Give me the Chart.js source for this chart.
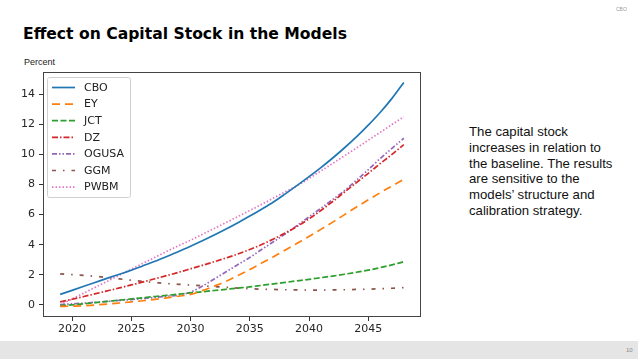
<!DOCTYPE html>
<html>
<head>
<meta charset="utf-8">
<script src="https://cdn.jsdelivr.net/npm/chart.js@4.4.0/dist/chart.umd.min.js"></script>
<style>
    body { margin: 0; width: 638px; height: 359px; background: #fff; position: relative; overflow: hidden; font-family: "Liberation Sans", Arial, sans-serif; }
    .title { position: absolute; left: 23px; top: 24.5px; font-family: "DejaVu Sans", sans-serif; font-size: 15.6px; font-weight: bold; color: #000; white-space: nowrap; }
    .unit { position: absolute; left: 24px; top: 57px; font-size: 9px; color: #222; }
    .tag { position: absolute; left: 616px; top: 6px; font-size: 5px; color: #999; }
    .note { position: absolute; left: 469px; top: 124px; font-size: 13.2px; line-height: 15.8px; color: #111; }
    .footer { position: absolute; left: 0; top: 341px; width: 638px; height: 18px; background: #e5e5e5; }
    .page { position: absolute; left: 626px; top: 347px; font-size: 6px; color: #888; }
    #wrap { position: absolute; left: 0; top: 0; width: 430px; height: 340px; }
</style>
</head>
<body>
<div class="tag">CBO</div>
<div class="title">Effect on Capital Stock in the Models</div>
<div class="unit">Percent</div>
<div id="wrap"><canvas id="capitalChart"></canvas></div>
<div class="note">The capital stock<br>increases in relation to<br>the baseline. The results<br>are sensitive to the<br>models’ structure and<br>calibration strategy.</div>
<div class="footer"></div>
<div class="page">10</div>

<script>
const years = [2019, 2020, 2021, 2022, 2023, 2024, 2025, 2026, 2027, 2028,
    2029, 2030, 2031, 2032, 2033, 2034, 2035, 2036, 2037, 2038,
    2039, 2040, 2041, 2042, 2043, 2044, 2045, 2046, 2047, 2048];

const cbo = [0.70, 0.97, 1.24, 1.51, 1.78, 2.04, 2.30, 2.60, 2.90, 3.22,
    3.55, 3.90, 4.26, 4.64, 5.04, 5.46, 5.90, 6.36, 6.84, 7.38,
    7.94, 8.52, 9.12, 9.76, 10.44, 11.16, 11.94, 12.78, 13.72, 14.78];
const ey = [-0.10, -0.08, -0.05, 0.00, 0.06, 0.13, 0.20, 0.28, 0.37, 0.47,
    0.58, 0.70, 0.95, 1.25, 1.57, 1.95, 2.35, 2.78, 3.20, 3.65,
    4.10, 4.55, 5.02, 5.50, 6.00, 6.50, 6.98, 7.45, 7.90, 8.35];
const jct = [-0.05, 0.01, 0.08, 0.16, 0.24, 0.32, 0.40, 0.48, 0.56, 0.64,
    0.72, 0.80, 0.88, 0.96, 1.04, 1.12, 1.20, 1.30, 1.40, 1.50,
    1.60, 1.70, 1.81, 1.92, 2.04, 2.17, 2.31, 2.48, 2.66, 2.87];
const dz = [0.20, 0.38, 0.56, 0.75, 0.94, 1.13, 1.33, 1.53, 1.74, 1.95,
    2.17, 2.40, 2.63, 2.87, 3.12, 3.38, 3.68, 4.01, 4.38, 4.78,
    5.22, 5.72, 6.27, 6.87, 7.50, 8.12, 8.74, 9.38, 10.00, 10.65];
const ogusa = [0.02, 0.07, 0.12, 0.18, 0.24, 0.30, 0.36, 0.43, 0.50, 0.58,
    0.66, 0.85, 1.25, 1.72, 2.20, 2.68, 3.15, 3.68, 4.20, 4.72,
    5.28, 5.85, 6.42, 7.00, 7.60, 8.28, 8.98, 9.72, 10.40, 11.07];
const ggm = [2.07, 2.02, 1.96, 1.90, 1.82, 1.73, 1.64, 1.56, 1.49, 1.42,
    1.37, 1.32, 1.27, 1.22, 1.17, 1.12, 1.08, 1.05, 1.03, 1.01,
    1.00, 0.99, 0.99, 1.00, 1.01, 1.03, 1.05, 1.08, 1.11, 1.15];
const pwbm = [0.00, 0.40, 0.79, 1.19, 1.58, 1.98, 2.37, 2.77, 3.16, 3.56,
    3.94, 4.30, 4.69, 5.08, 5.47, 5.87, 6.27, 6.68, 7.10, 7.52,
    7.92, 8.40, 8.90, 9.40, 9.91, 10.42, 10.94, 11.46, 11.98, 12.50];

const modelNames = ['CBO', 'EY', 'JCT', 'DZ', 'OGUSA', 'GGM', 'PWBM'];
const modelValues = [cbo, ey, jct, dz, ogusa, ggm, pwbm];
const modelColors = ['#1f77b4', '#ff7f0e', '#2ca02c', '#d62728', '#9467bd', '#8c564b', '#e377c2'];
const modelDashes = [[], [8, 5], [6, 2.5], [6, 2, 1.5, 2], [5, 2, 1.5, 2, 1.5, 2], [4, 7, 1.5, 7], [1.5, 2]];

const xTicks = [2020, 2025, 2030, 2035, 2040, 2045];
const yTicks = [0, 2, 4, 6, 8, 10, 12, 14];

// frame around the plot and a matplotlib-style legend in the upper left
const framePlugin = {
    id: 'framePlugin',
    afterDraw(chart) {
        const ctx = chart.ctx;
        const area = chart.chartArea;
        ctx.save();
        ctx.strokeStyle = '#444';
        ctx.lineWidth = 1;
        ctx.setLineDash([]);
        ctx.strokeRect(area.left + 0.5, area.top + 0.5, area.right - area.left - 1, area.bottom - area.top - 1);

        const boxX = area.left + 4.5, boxY = area.top + 5.5, boxW = 83, boxH = 120;
        ctx.fillStyle = 'rgba(255,255,255,0.85)';
        ctx.strokeStyle = '#d0d0d0';
        ctx.beginPath();
        ctx.roundRect(boxX, boxY, boxW, boxH, 2);
        ctx.fill();
        ctx.stroke();

        ctx.font = '11px "DejaVu Sans"';
        ctx.textBaseline = 'middle';
        chart.data.datasets.forEach((ds, i) => {
            const y = area.top + 15.5 + i * 16.6;
            ctx.strokeStyle = ds.borderColor;
            ctx.lineWidth = ds.borderWidth;
            ctx.setLineDash(ds.borderDash);
            ctx.beginPath();
            ctx.moveTo(area.left + 9, y);
            ctx.lineTo(area.left + 32, y);
            ctx.stroke();
            ctx.fillStyle = '#222';
            ctx.fillText(ds.label, area.left + 41, y + 0.5);
        });
        ctx.restore();
    }
};

const datasets = modelNames.map((name, i) => ({
    label: name,
    data: years.map((yr, j) => ({ x: yr, y: modelValues[i][j] })),
    borderColor: modelColors[i],
    borderWidth: 1.7,
    borderDash: modelDashes[i],
    pointRadius: 0,
    fill: false,
    cubicInterpolationMode: 'monotone'
}));

new Chart(document.getElementById('capitalChart'), {
    type: 'line',
    data: { datasets: datasets },
    options: {
        responsive: true,
        maintainAspectRatio: false,
        animation: false,
        layout: { padding: { top: 72, right: 9, left: 0, bottom: 0 } },
        plugins: {
            legend: { display: false },
            tooltip: { enabled: false }
        },
        scales: {
            x: {
                type: 'linear',
                min: 2017.55,
                max: 2049.45,
                afterBuildTicks: scale => { scale.ticks = xTicks.map(v => ({ value: v })); },
                afterFit: scale => { scale.height = 23; },
                grid: { drawOnChartArea: false, drawTicks: true, tickLength: 4, color: '#333' },
                border: { display: false },
                ticks: {
                    color: '#262626',
                    padding: 2,
                    maxRotation: 0,
                    font: { family: 'DejaVu Sans', size: 11 },
                    callback: v => String(v)
                }
            },
            y: {
                min: -0.8,
                max: 15.47,
                afterBuildTicks: scale => { scale.ticks = yTicks.map(v => ({ value: v })); },
                afterFit: scale => { scale.width = 43; },
                grid: { drawOnChartArea: false, drawTicks: true, tickLength: 4, color: '#333' },
                border: { display: false },
                ticks: {
                    color: '#262626',
                    padding: 4,
                    font: { family: 'DejaVu Sans', size: 11 }
                }
            }
        }
    },
    plugins: [framePlugin]
});
</script>
</body>
</html>
